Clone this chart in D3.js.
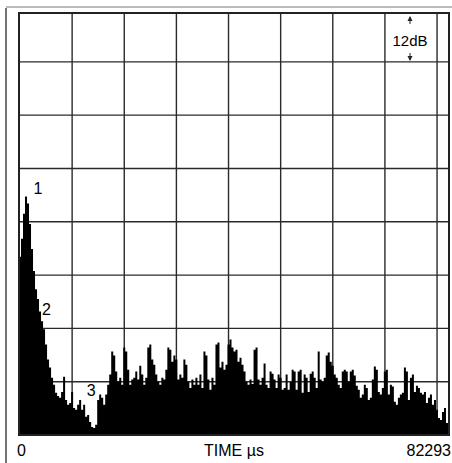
<!DOCTYPE html>
<html>
<head>
<meta charset="utf-8">
<script src="https://cdn.jsdelivr.net/npm/d3@7"></script>
<style>
  body { margin: 0; background: #fff; }
  svg { display: block; }
</style>
</head>
<body>
<div id="viz-container"></div>
<script>
// time axis span (µs) and visible dB range above floor
const timeMax = 82293;
const dbTop = 95;

// envelope level (dB above display floor), every ~2px
const levels = [
  40.1, 44.2, 49.8, 53.7, 52.1, 47.5, 41.9, 36.9, 32.8, 30.6,
  27.8, 25.6, 23.8, 20.4, 17.0, 15.2, 12.9, 11.3, 9.5, 8.8,
  8.4, 9.7, 13.1, 7.9, 6.8, 7.2, 9.7, 6.1, 5.7, 6.8,
  7.9, 5.7, 6.8, 4.1, 4.5, 2.9, 1.8, 1.6, 2.3, 7.9,
  9.1, 8.4, 6.8, 9.1, 11.3, 13.6, 18.8, 17.9, 14.3, 12.0,
  12.9, 11.3, 19.7, 18.8, 14.7, 11.3, 12.5, 12.9, 14.3, 12.5,
  15.6, 13.6, 11.3, 12.9, 19.7, 20.4, 17.0, 15.8, 13.6, 12.0,
  11.3, 12.9, 12.5, 14.7, 19.7, 19.2, 16.5, 17.9, 17.0, 12.5,
  13.6, 12.9, 17.0, 15.8, 12.0, 10.6, 12.5, 11.3, 12.9, 11.3,
  13.6, 10.6, 18.8, 17.9, 12.5, 10.2, 12.9, 11.3, 20.4, 20.8,
  15.2, 16.5, 14.7, 15.8, 20.4, 21.5, 19.7, 18.8, 19.2, 16.5,
  17.4, 15.8, 14.3, 12.0, 11.3, 12.5, 11.5, 19.2, 19.7, 12.5,
  11.3, 12.9, 16.1, 11.3, 10.6, 14.3, 13.8, 12.5, 10.6, 13.6,
  12.9, 10.2, 10.6, 13.6, 10.2, 12.0, 14.7, 14.3, 10.2, 14.3,
  14.7, 9.5, 13.6, 12.9, 9.7, 13.8, 14.3, 12.9, 10.6, 18.8,
  12.5, 12.0, 12.9, 17.9, 18.6, 16.5, 15.6, 13.6, 12.9, 11.3,
  10.6, 14.3, 14.7, 14.3, 12.0, 14.3, 14.7, 13.4, 11.1, 10.2,
  8.4, 9.1, 11.3, 10.6, 7.9, 8.4, 12.5, 15.4, 14.7, 9.7,
  9.1, 10.6, 14.3, 14.7, 9.1, 11.3, 10.9, 7.5, 6.8, 8.4,
  9.1, 9.5, 15.2, 14.3, 7.9, 12.9, 13.6, 9.7, 11.1, 10.6,
  9.5, 9.1, 9.7, 7.2, 8.4, 9.1, 6.8, 7.9, 5.7, 3.8,
  3.4, 5.2, 6.1, 2.7, 3.8
];

const gridTimes = [10000, 20000, 30000, 40000, 50000, 60000, 70000, 80000];
const gridDb = [12, 24, 36, 48, 60, 72, 84];

const peakTags = ["1", "2", "3"];
const peakTimes = [2600, 4200, 12800];
const peakDb = [54.3, 27.0, 8.7];

const width = 452, height = 463;

const viz = d3.select('#viz-container')
  .append('svg')
    .attr('width', width)
    .attr('height', height)
    .attr('font-family', 'Liberation Sans, Arial, sans-serif');

const x = d3.scaleLinear().domain([0, timeMax]).range([20, 449]);
const y = d3.scaleLinear().domain([0, dbTop]).range([435, 13]);
const step = timeMax / (levels.length - 1);

// scan border remnants
viz.append('line')
  .attr('x1', 6).attr('x2', 6).attr('y1', 8).attr('y2', height)
  .attr('stroke', '#444').attr('stroke-width', 1.5);
viz.append('line')
  .attr('x1', 6).attr('x2', width).attr('y1', 7).attr('y2', 7)
  .attr('stroke', '#777').attr('stroke-width', 1);

// grid
viz.selectAll('.vgrid').data(gridTimes).enter()
  .append('line')
    .attr('class', 'vgrid')
    .attr('x1', d => x(d)).attr('x2', d => x(d))
    .attr('y1', y(dbTop)).attr('y2', y(0))
    .attr('stroke', '#2a2a2a').attr('stroke-width', 1.4);

viz.selectAll('.hgrid').data(gridDb).enter()
  .append('line')
    .attr('class', 'hgrid')
    .attr('x1', x(0)).attr('x2', x(timeMax))
    .attr('y1', d => y(d)).attr('y2', d => y(d))
    .attr('stroke', '#2a2a2a').attr('stroke-width', 1.4);

// trace, drawn as narrow steps like the analyser display
const area = d3.area()
  .curve(d3.curveStep)
  .x((d, i) => x(i * step))
  .y0(y(0))
  .y1(d => y(d));

viz.append('path')
  .datum(levels)
  .attr('d', area)
  .attr('fill', '#000');

// plot frame
viz.append('rect')
  .attr('x', x(0) - 1).attr('y', y(dbTop))
  .attr('width', x(timeMax) - x(0) + 1).attr('height', y(0) - y(dbTop))
  .attr('fill', 'none')
  .attr('stroke', '#222').attr('stroke-width', 2);

// peak annotations
viz.selectAll('.tag').data(peakTags).enter()
  .append('text')
    .attr('class', 'tag')
    .attr('x', (d, i) => x(peakTimes[i]))
    .attr('y', (d, i) => y(peakDb[i]))
    .attr('font-size', 16)
    .attr('fill', '#000')
    .text(d => d);

// 12dB scale marker
const mx = 410;
viz.append('text')
  .attr('x', mx).attr('y', 46)
  .attr('text-anchor', 'middle')
  .attr('font-size', 15)
  .attr('fill', '#000')
  .text('12dB');
viz.append('line').attr('x1', mx).attr('x2', mx).attr('y1', 17).attr('y2', 24)
  .attr('stroke', '#222').attr('stroke-width', 1);
viz.append('path').attr('d', `M${mx - 2.5},21 L${mx},16 L${mx + 2.5},21 Z`).attr('fill', '#222');
viz.append('line').attr('x1', mx).attr('x2', mx).attr('y1', 53).attr('y2', 60)
  .attr('stroke', '#222').attr('stroke-width', 1);
viz.append('path').attr('d', `M${mx - 2.5},56 L${mx},61 L${mx + 2.5},56 Z`).attr('fill', '#222');

// bottom labels
viz.append('text')
  .attr('x', x(0) - 3).attr('y', 456)
  .attr('font-size', 16).attr('fill', '#000')
  .text('0');
viz.append('text')
  .attr('x', 234).attr('y', 456)
  .attr('text-anchor', 'middle')
  .attr('font-size', 16).attr('fill', '#000')
  .text('TIME µs');
viz.append('text')
  .attr('x', 451).attr('y', 456)
  .attr('text-anchor', 'end')
  .attr('font-size', 16).attr('fill', '#000')
  .text('82293');
</script>
</body>
</html>
